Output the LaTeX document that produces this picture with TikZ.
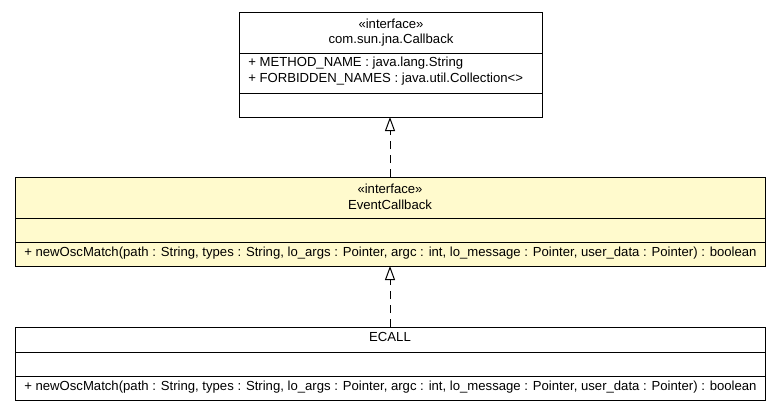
\documentclass[tikz,border=0pt]{standalone}
\usepackage{fontspec}
\setmainfont{Liberation Sans}
\usetikzlibrary{arrows.meta}
\definecolor{ecfill}{RGB}{255,250,205}
\tikzset{
  x=0.75pt, y=-0.75pt,
  classbox/.style={draw=black, line width=0.75pt, anchor=north west, inner sep=0pt, outer sep=0pt},
  txt/.style={inner sep=0pt, font=\fontsize{9.85}{11}\selectfont},
  divider/.style={line width=0.75pt},
  realize/.style={line width=0.75pt, dash pattern=on 6pt off 4.5pt,
    -{Triangle[open, length=10.5pt, width=7.5pt, fill=white]}},
}
\begin{document}
\begin{tikzpicture}
\useasboundingbox (0,0) rectangle (781,411);
% top box
\node[classbox, minimum width=227.25pt, minimum height=78.75pt] (cb) at (239.5,12) {};
\draw[divider] (239.5,53) -- (542.5,53);
\draw[divider] (239.5,93) -- (542.5,93);
\node[txt] (cbst) at (391,24) {«interface»};
\node[txt] (cbname) at (391,40) {com.sun.jna.Callback};
\node[txt, anchor=west] (cba1) at (248,63) {+ METHOD\_NAME : java.lang.String};
\node[txt, anchor=west] (cba2) at (248,79) {+ FORBIDDEN\_NAMES : java.util.Collection<>};
% middle box
\node[classbox, fill=ecfill, minimum width=562.5pt, minimum height=66.75pt] (ec) at (15,177) {};
\draw[divider] (15,218) -- (765,218);
\draw[divider] (15,242) -- (765,242);
\node[txt] (ecst) at (390,188.5) {«interface»};
\node[txt] (ecname) at (390,205) {EventCallback};
\node[txt, anchor=west] (ecm) at (24,253.5) {+ newOscMatch(path : String, types : String, lo\_args : Pointer, argc : int, lo\_message : Pointer, user\_data : Pointer) : boolean};
% bottom box
\node[classbox, minimum width=562.5pt, minimum height=54.75pt] (ecall) at (15,327) {};
\draw[divider] (15,352) -- (765,352);
\draw[divider] (15,376) -- (765,376);
\node[txt] (ecallname) at (390,337) {ECALL};
\node[txt, anchor=west] (ecallm) at (24,387) {+ newOscMatch(path : String, types : String, lo\_args : Pointer, argc : int, lo\_message : Pointer, user\_data : Pointer) : boolean};
% connectors
\draw[realize] (ec.north) -- (ec.north |- cb.south);
\draw[realize] (ecall.north) -- (ecall.north |- ec.south);
\end{tikzpicture}
\end{document}
